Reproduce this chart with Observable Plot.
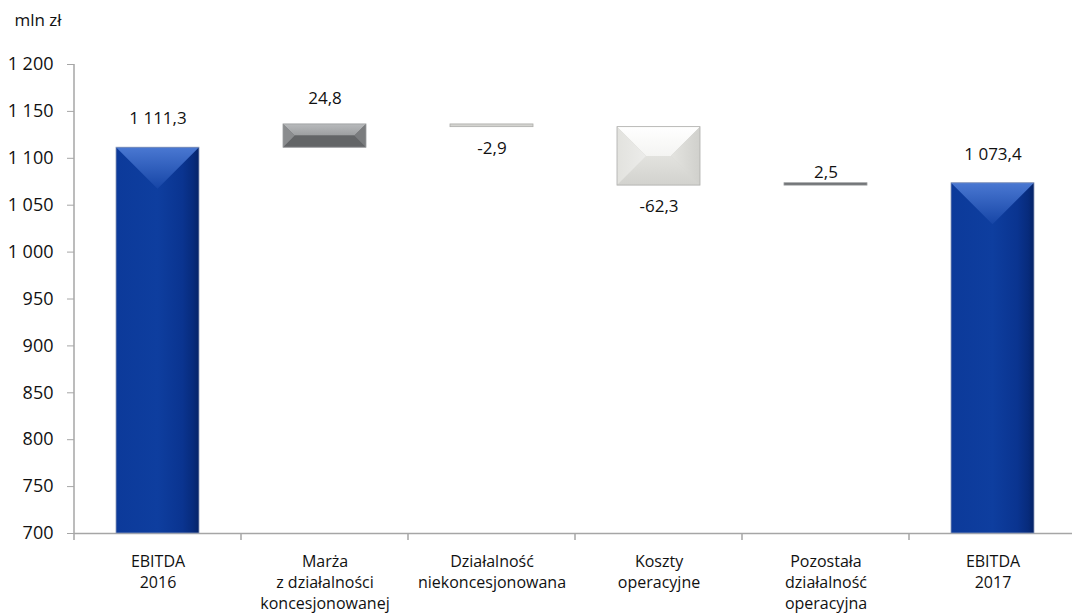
<!DOCTYPE html>
<html><head><meta charset="utf-8">
<script src="https://cdn.jsdelivr.net/npm/d3@7"></script>
<script src="https://cdn.jsdelivr.net/npm/@observablehq/plot@0.6"></script>
<style>
html,body{margin:0;padding:0;background:#fff;}
#chart{position:relative;width:1072px;height:614px;}
</style>
</head><body><div id="chart"></div>
<script>
// ---- data ----
const categories = [
  "EBITDA\n2016",
  "Marża\nz działalności\nkoncesjonowanej",
  "Działalność\nniekoncesjonowana",
  "Koszty\noperacyjne",
  "Pozostała\ndziałalność\noperacyjna",
  "EBITDA\n2017"
];
const values = [1111.3, 24.8, -2.9, -62.3, 2.5, 1073.4];
const kinds = ["total", "delta", "delta", "delta", "delta", "total"];
const yTicks = [700, 750, 800, 850, 900, 950, 1000, 1050, 1100, 1150, 1200];
const unitLabel = "mln zł";

// ---- formatting ----
const locale = d3.formatLocale({decimal: ",", thousands: " ", grouping: [3], currency: ["", ""], minus: "-"});
const fmtValue = locale.format(",.1f");
const fmtTick = locale.format(",.0f");

// ---- waterfall rows ----
let running = 0;
const rows = categories.map((c, i) => {
  const v = values[i];
  let start, end;
  if (kinds[i] === "total") { start = yTicks[0]; end = v; running = v; }
  else { start = running; end = running + v; running = end; }
  return {category: c, value: v, kind: kinds[i], start, end,
          top: Math.max(start, end), bottom: Math.min(start, end), label: fmtValue(v)};
});

const FONT = "'Open Sans', sans-serif";
const ink = "#111";

const chart = Plot.plot({
  width: 1072,
  height: 614,
  marginLeft: 74,
  marginRight: 0,
  marginTop: 64,
  marginBottom: 81,
  style: {fontFamily: FONT, background: "#fff", color: ink, overflow: "visible"},
  x: {type: "band", domain: categories, range: [74, 1076], padding: 0, axis: null},
  y: {domain: [yTicks[0], yTicks[yTicks.length - 1]]},
  marks: [
    Plot.axisY({ticks: yTicks, tickFormat: fmtTick, tickSize: 7, tickPadding: 14,
                fontSize: 18, label: null, stroke: "#a6a6a6", fill: ink}),
    Plot.ruleY([yTicks[0]], {stroke: "#a6a6a6", strokeWidth: 1.5}),
    Plot.barY(rows, {x: "category", y1: "start", y2: "end", insetLeft: 42, insetRight: 42, fill: "#999"}),
    // value labels
    Plot.text(rows.filter(r => r.kind === "total"),
      {x: "category", y: "top", text: "label", dy: -29, fontSize: 17, fill: ink, lineAnchor: "middle"}),
    Plot.text(rows.filter(r => r.kind === "delta" && r.value > 0 && Math.abs(r.value) >= 5),
      {x: "category", y: "top", text: "label", dy: -26, fontSize: 17, fill: ink, lineAnchor: "middle"}),
    Plot.text(rows.filter(r => r.kind === "delta" && r.value > 0 && Math.abs(r.value) < 5),
      {x: "category", y: "top", text: "label", dy: -11, fontSize: 17, fill: ink, lineAnchor: "middle"}),
    Plot.text(rows.filter(r => r.kind === "delta" && r.value < 0),
      {x: "category", y: "bottom", text: "label", dy: 21, fontSize: 17, fill: ink, lineAnchor: "middle"}),
    // category labels
    Plot.text(categories, {x: d => d, text: d => d, frameAnchor: "bottom", lineAnchor: "top",
      dy: 19, fontSize: 16, lineHeight: 1.31, fill: ink}),
    // unit label
    Plot.text([unitLabel], {text: d => d, frameAnchor: "top-left", textAnchor: "start",
      lineAnchor: "middle", dx: -60, dy: -44, fontSize: 17, fill: ink})
  ]
});

document.getElementById("chart").appendChild(chart);

// ---- post-processing: axis lines, boundary ticks, bevel styling ----
const svg = d3.select(chart);
const xs = chart.scale("x"), ys = chart.scale("y");
const y0 = ys.apply(yTicks[0]), yTop = ys.apply(yTicks[yTicks.length - 1]);

const defs = svg.insert("defs", ":first-child");
function lin(id, horiz, stops) {
  const g = defs.append("linearGradient").attr("id", id)
    .attr("x1", 0).attr("y1", 0).attr("x2", horiz ? 1 : 0).attr("y2", horiz ? 0 : 1);
  stops.forEach(([o, c]) => g.append("stop").attr("offset", o).attr("stop-color", c));
}
lin("blueBody", true, [[0, "#0c3a9a"], [0.5, "#0e3e9f"], [0.8, "#0a3490"], [0.93, "#072b7c"], [1, "#052367"]]);
lin("blueTop", false, [[0, "#4a78d2"], [1, "#1645a6"]]);
lin("darkTop", false, [[0, "#b8babc"], [1, "#9c9ea0"]]);
lin("lightTop", false, [[0, "#ffffff"], [1, "#f4f4f2"]]);
lin("lightLeft", true, [[0, "#e2e2de"], [1, "#ececea"]]);
lin("lightRight", true, [[0, "#e4e4e0"], [1, "#d0d0cc"]]);
lin("lightBottom", false, [[0, "#e2e2de"], [1, "#d2d2ce"]]);

const styles = {
  total: {body: "url(#blueBody)", outline: "#8e9cba"},
  up: {body: "#6e7072", top: "url(#darkTop)", left: "#8a8c8e", right: "#7a7c7e", bottom: "#636567", outline: "#9a9c9e"},
  down: {body: "#d4d4d0", top: "url(#lightTop)", left: "url(#lightLeft)", right: "url(#lightRight)", bottom: "url(#lightBottom)", outline: "#acacaa"}
};

svg.selectAll('g[aria-label="bar"] rect').each(function(_, i) {
  const r = rows[i];
  const el = d3.select(this);
  const x = +el.attr("x"), y = +el.attr("y"), w = +el.attr("width"), h = +el.attr("height");
  const g = d3.select(this.parentNode);
  const st = r.kind === "total" ? styles.total : (r.value > 0 ? styles.up : styles.down);
  el.attr("fill", st.body);
  const poly = (pts, fill) => g.append("polygon").attr("points", pts.map(p => p.join(",")).join(" ")).attr("fill", fill);
  if (r.kind === "total") {
    const d = w / 2;
    poly([[x, y], [x + w, y], [x + w / 2, y + Math.min(d, h)]], "url(#blueTop)");
  } else if (h > 6) {
    const d = Math.min(w, h) / 2;
    poly([[x, y], [x + w, y], [x + w - d, y + d], [x + d, y + d]], st.top);
    poly([[x, y + h], [x + w, y + h], [x + w - d, y + h - d], [x + d, y + h - d]], st.bottom);
    poly([[x, y], [x + d, y + d], [x + d, y + h - d], [x, y + h]], st.left);
    poly([[x + w, y], [x + w - d, y + d], [x + w - d, y + h - d], [x + w, y + h]], st.right);
  }
  g.append("rect").attr("x", x).attr("y", y).attr("width", w).attr("height", h)
    .attr("fill", "none").attr("stroke", st.outline).attr("stroke-width", 0.8);
});

const axisG = svg.append("g").attr("stroke", "#a6a6a6").attr("stroke-width", 1.5);
const xLeft = xs.apply(categories[0]);
axisG.append("line").attr("x1", xLeft).attr("x2", xLeft).attr("y1", y0).attr("y2", yTop);
const bounds = categories.map(c => xs.apply(c)).concat([xs.apply(categories[categories.length - 1]) + xs.bandwidth]);
bounds.forEach(b => axisG.append("line").attr("x1", b).attr("x2", b).attr("y1", y0).attr("y2", y0 + 7));
</script>
</body></html>
